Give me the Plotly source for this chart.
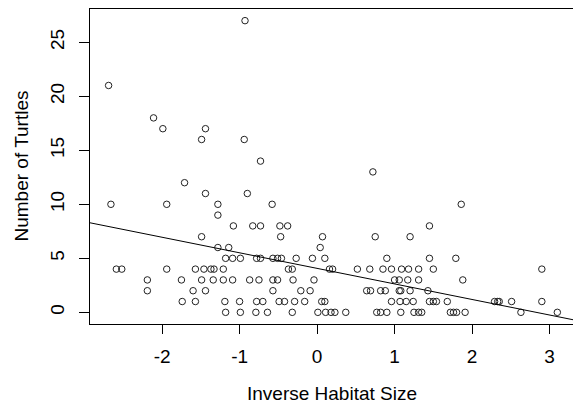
import plotly.graph_objects as go

# Data (x = inverse habitat size, y = number of turtles)
x_vals = [
    # y = 0
    -1.18, -0.99, -0.79, -0.64, -0.32, 0.01, 0.11, 0.18, 0.23, 0.37, 0.77, 0.82, 0.90, 1.08,
    1.25, 1.31, 1.35, 1.72, 1.76, 1.80, 1.91, 2.63, 3.10,
    # y = 1
    -1.74, -1.57, -1.19, -1.00, -0.78, -0.70, -0.49, -0.42, -0.29, -0.16, 0.06, 0.10, 0.96,
    1.07, 1.15, 1.24, 1.45, 1.50, 1.54, 1.68, 2.29, 2.33, 2.35, 2.51, 2.90,
    # y = 2
    -2.19, -1.60, -1.44, -0.57, -0.21, -0.09, 0.64, 0.69, 0.82, 0.88, 1.06, 1.08, 1.20, 1.43,
    # y = 3
    -2.19, -1.75, -1.49, -1.34, -1.21, -1.09, -0.87, -0.75, -0.57, -0.51, -0.31, -0.04, 1.00,
    1.06, 1.17, 1.31, 1.88,
    # y = 4
    -2.59, -2.52, -1.94, -1.57, -1.46, -1.37, -1.33, -1.21, -0.37, -0.32, 0.16, 0.20, 0.52,
    0.68, 0.85, 0.96, 1.09, 1.18, 1.31, 1.50, 2.90,
    # y = 5
    -1.18, -1.09, -0.99, -0.78, -0.73, -0.57, -0.51, -0.46, -0.27, -0.06, 0.10, 0.90, 1.45, 1.79,
    # y = 6
    -1.28, -1.14, 0.04,
    # y = 7
    -1.49, -0.47, 0.07, 0.75, 1.20,
    # y = 8
    -1.08, -0.83, -0.73, -0.48, -0.38, 1.45,
    # y = 9
    -1.28,
    # y = 10
    -2.66, -1.94, -1.28, -0.58, 1.86,
    # y = 11
    -1.44, -0.90,
    # y = 12..27
    -1.71, 0.72, -0.73, -1.49, -0.94, -1.99, -1.44, -2.11, -2.69, -0.93,
]
y_vals = (
    [0] * 23 + [1] * 25 + [2] * 14 + [3] * 17 + [4] * 21 + [5] * 14 + [6] * 3 + [7] * 5
    + [8] * 6 + [9] * 1 + [10] * 5 + [11] * 2
    + [12, 13, 14, 16, 16, 17, 17, 18, 21, 27]
)

# Fitted regression line (abline)
intercept = 4.07
slope = -1.44

x_ticks = [-2, -1, 0, 1, 2, 3]
y_ticks = [0, 5, 10, 15, 20, 25]

x_range = [-2.93, 3.302]
y_range = [-1.08, 28.08]

font_family = "Liberation Sans, Arial, sans-serif"
fsize = 19

fig = go.Figure()
fig.add_trace(go.Scatter(
    x=x_vals, y=y_vals, mode="markers",
    marker=dict(symbol="circle-open", size=6.5, color="#222222", line=dict(width=1, color="#222222")),
    hoverinfo="skip", showlegend=False,
))
line_x = [x_range[0], x_range[1]]
line_y = [intercept + slope * v for v in line_x]
fig.add_trace(go.Scatter(
    x=line_x, y=line_y, mode="lines",
    line=dict(color="black", width=1),
    hoverinfo="skip", showlegend=False,
))

fig.update_layout(
    width=573, height=404,
    margin=dict(l=90, r=0, t=9, b=80),
    paper_bgcolor="white", plot_bgcolor="white",
    font=dict(family=font_family, size=fsize, color="black"),
    xaxis=dict(
        range=x_range, tickvals=x_ticks, ticktext=[str(t) for t in x_ticks],
        showgrid=False, zeroline=False,
        showline=True, mirror=True, linecolor="black", linewidth=1,
        ticks="outside", ticklen=9, tickcolor="black", tickwidth=1,
        tickfont=dict(family=font_family, size=fsize, color="black"),
        ticklabelstandoff=6,
    ),
    yaxis=dict(
        range=y_range, tickvals=y_ticks, ticktext=[str(t) for t in y_ticks],
        showgrid=False, zeroline=False,
        showline=True, mirror=False, linecolor="black", linewidth=1,
        ticks="outside", ticklen=10, tickcolor="black", tickwidth=1,
        tickangle=-90,
        tickfont=dict(family=font_family, size=fsize, color="black"),
        ticklabelstandoff=7,
    ),
    annotations=[
        dict(text="Inverse Habitat Size", xref="paper", yref="paper", x=0.5, y=0,
             yshift=-69, xanchor="center", yanchor="middle", showarrow=False,
             font=dict(family=font_family, size=fsize, color="black")),
        dict(text="Number of Turtles", xref="paper", yref="paper", x=0, y=0.5,
             xshift=-69, xanchor="center", yanchor="middle", showarrow=False, textangle=-90,
             font=dict(family=font_family, size=fsize, color="black")),
    ],
)

fig.write_html("out.html")
